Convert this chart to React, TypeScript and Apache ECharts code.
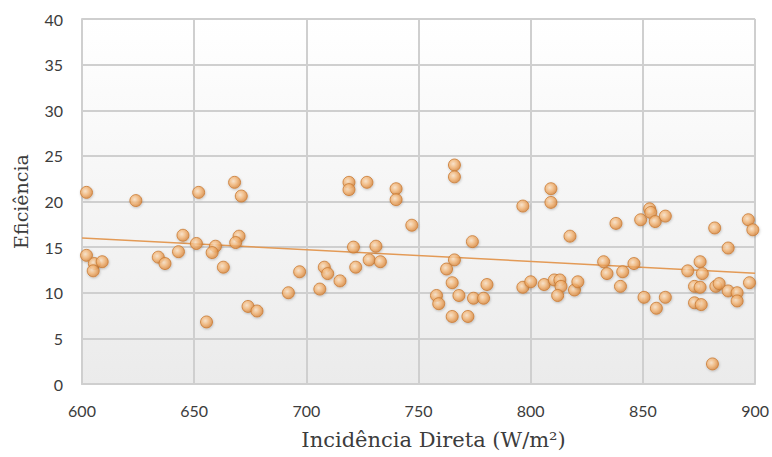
import React, { useEffect, useRef } from "react";
import * as echarts from "echarts";

const xTicks = [600, 650, 700, 750, 800, 850, 900];
const yTicks = [0, 5, 10, 15, 20, 25, 30, 35, 40];

const pointsLeft: number[][] = [
  [602, 21.0], [624, 20.1], [652, 21.0], [668, 22.1], [671, 20.6], [602, 14.1],
  [605.5, 13.2], [605, 12.4], [609, 13.4], [634, 13.9], [637, 13.2], [643, 14.5],
  [645, 16.3], [651, 15.4], [659.5, 15.1], [658, 14.4], [663, 12.8], [670, 16.2],
  [668.5, 15.5], [655.5, 6.8], [674, 8.5], [678, 8.0], [692, 10.0], [697, 12.3],
];

const pointsMiddle: number[][] = [
  [719, 22.1], [719, 21.3], [727, 22.1], [740, 21.4], [740, 20.2], [766, 24.0],
  [766, 22.7], [796.5, 19.5], [747, 17.4], [721, 15.0], [731, 15.1], [728, 13.6],
  [733, 13.4], [722, 12.8], [708, 12.8], [709.5, 12.1], [715, 11.3], [706, 10.4],
  [774, 15.6], [766, 13.6], [762.5, 12.6], [765, 11.1], [758, 9.7], [759, 8.8],
  [768, 9.7], [774.5, 9.4], [779, 9.4], [780.5, 10.9], [765, 7.4], [772, 7.4],
  [796.5, 10.6],
];

const pointsRight: number[][] = [
  [809, 21.4], [809, 19.9], [817.5, 16.2], [838, 17.6], [849, 18.0], [853, 19.2],
  [853.5, 18.8], [855.5, 17.8], [860, 18.4], [882, 17.1], [897, 18.0], [899, 16.9],
  [888, 14.9], [800, 11.2], [806, 10.9], [810.5, 11.4], [813, 11.4], [813.5, 10.7],
  [812, 9.7], [819.5, 10.3], [821, 11.2], [832.5, 13.4], [834, 12.1], [841, 12.3],
  [840, 10.7], [846, 13.2], [850.5, 9.5], [856, 8.3], [860, 9.5], [870, 12.4],
  [875.5, 13.4], [876.5, 12.1], [873, 10.7], [875.5, 10.6], [873, 8.9], [876, 8.7],
  [882.5, 10.7], [884, 11.0], [888, 10.2], [892, 10.0], [892, 9.1], [897.5, 11.1],
  [881, 2.2],
];

const trendLine: number[][] = [
  [600, 16.0],
  [900, 12.15],
];

const App: React.FC = () => {
  const ref = useRef<HTMLDivElement>(null);

  useEffect(() => {
    document.body.style.margin = "0";
    if (!ref.current) return;
    const chart = echarts.init(ref.current, undefined, { renderer: "svg" });
    const allPoints = [...pointsLeft, ...pointsMiddle, ...pointsRight];
    const labelColor = "#3c3c3c";
    const gridColor = "#cfcfcf";

    chart.setOption({
      animation: false,
      backgroundColor: "#ffffff",
      grid: {
        left: 82,
        right: 15,
        top: 19,
        bottom: 73,
        show: true,
        borderWidth: 0,
        backgroundColor: new echarts.graphic.LinearGradient(0, 0, 0, 1, [
          { offset: 0, color: "#ffffff" },
          { offset: 1, color: "#ebebeb" },
        ]),
      },
      xAxis: {
        type: "value",
        min: xTicks[0],
        max: xTicks[xTicks.length - 1],
        interval: 50,
        name: "Incidência Direta (W/m²)",
        nameLocation: "middle",
        nameGap: 45,
        nameTextStyle: {
          fontFamily: "DejaVu Serif",
          fontSize: 21,
          color: labelColor,
          padding: [0, 0, 0, 30],
        },
        axisLine: { show: true, lineStyle: { color: gridColor, width: 2 } },
        axisTick: { show: false },
        axisLabel: {
          fontFamily: "Lato",
          fontSize: 16,
          color: labelColor,
          margin: 18,
        },
        splitLine: { show: true, lineStyle: { color: gridColor, width: 2 } },
      },
      yAxis: {
        type: "value",
        min: yTicks[0],
        max: yTicks[yTicks.length - 1],
        interval: 5,
        name: "Eficiência",
        nameLocation: "middle",
        nameGap: 52,
        nameRotate: 90,
        nameTextStyle: {
          fontFamily: "DejaVu Serif",
          fontSize: 19,
          color: labelColor,
        },
        axisLine: { show: true, lineStyle: { color: gridColor, width: 2 } },
        axisTick: { show: false },
        axisLabel: {
          fontFamily: "Lato",
          fontSize: 16,
          color: labelColor,
          margin: 19,
        },
        splitLine: { show: true, lineStyle: { color: gridColor, width: 2 } },
      },
      series: [
        {
          type: "line",
          data: trendLine,
          showSymbol: false,
          symbol: "none",
          lineStyle: { color: "#e39a56", width: 1.5 },
          z: 2,
        },
        {
          type: "scatter",
          data: allPoints,
          symbol: "circle",
          symbolSize: 12,
          itemStyle: {
            color: new echarts.graphic.RadialGradient(0.4, 0.4, 0.6, [
              { offset: 0, color: "#fde4c8" },
              { offset: 0.55, color: "#f5b676" },
              { offset: 1, color: "#dc8a40" },
            ]),
            borderColor: "#c97a33",
            borderWidth: 1,
            shadowColor: "rgba(0,0,0,0.25)",
            shadowBlur: 2,
            shadowOffsetX: 0.5,
            shadowOffsetY: 1,
          },
          z: 3,
        },
      ],
    });

    return () => {
      chart.dispose();
    };
  }, []);

  return <div ref={ref} style={{ width: 772, height: 457 }} />;
};

export default App;
